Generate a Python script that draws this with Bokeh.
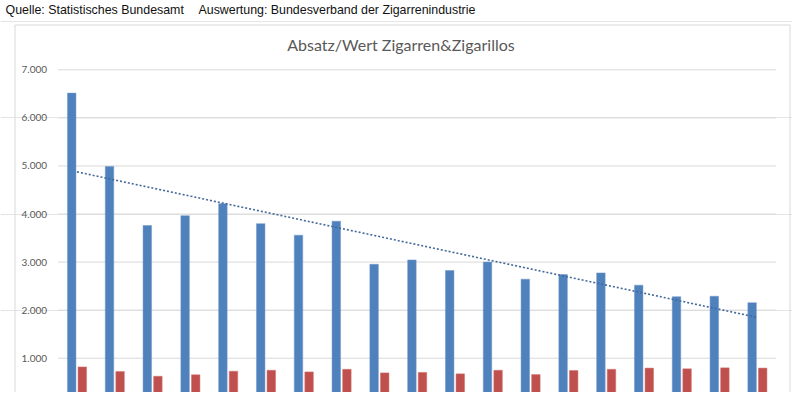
import numpy as np
from bokeh.plotting import figure
from bokeh.models import Range1d, ColumnDataSource, Grid, FixedTicker
from bokeh.core.properties import value
from bokeh.transform import dodge
from bokeh.embed import file_html
from bokeh.resources import INLINE

# ---- data ----
categories = [str(i) for i in range(1, 20)]
absatz = [6515, 4990, 3760, 3965, 4215, 3800, 3560, 3850, 2955, 3045,
          2825, 3000, 2645, 2740, 2775, 2520, 2280, 2290, 2155]
wert = [820, 725, 625, 655, 730, 750, 715, 770, 695, 705,
        675, 750, 660, 745, 770, 795, 780, 800, 795]
y_ticks = [1000, 2000, 3000, 4000, 5000, 6000, 7000]
y_tick_labels = ["1.000", "2.000", "3.000", "4.000", "5.000", "6.000", "7.000"]
title_text = "Absatz/Wert Zigarren&Zigarillos"
source_text = "Quelle: Statistisches Bundesamt"
eval_text = "Auswertung: Bundesverband der Zigarrenindustrie"

# ---- layout helpers (pixel -> data) ----
W, H = 792, 392
CAT_PX = 37.8          # pixel width of one category
X0_PX = 76.5           # pixel centre of the first category
PX_PER_UNIT_Y = 0.04807
ZERO_PX = 405.8        # pixel row of value 0 (below the visible area)

def dx(px):
    return (px - X0_PX) / CAT_PX

def dy(py):
    return (ZERO_PX - py) / PX_PER_UNIT_Y

xs = np.arange(len(categories))
slope, intercept = np.polyfit(xs, absatz, 1)
trend = list(slope * xs + intercept)

src = ColumnDataSource(dict(x=list(xs), absatz=absatz, wert=wert, trend=trend))

p = figure(width=W, height=H,
           x_range=Range1d(dx(0), dx(W)), y_range=Range1d(dy(H), dy(0)),
           x_axis_location=None, y_axis_location=None,
           output_backend="svg", toolbar_location=None,
           min_border=0)
p.outline_line_color = None
p.background_fill_color = "white"
p.border_fill_color = "white"
p.xgrid.visible = False if p.xgrid else None

# chart-area border
p.quad(left=dx(14.5), right=dx(789.5), top=dy(24.5), bottom=dy(H + 20),
       fill_color=None, line_color="#d9d9d9", line_width=1)

# horizontal gridlines over the plot area
p.segment(x0=-0.5, x1=len(categories) - 0.5, y0=y_ticks, y1=y_ticks,
          line_color="#d9d9d9", line_width=1)

# y tick labels
p.text(x=-0.5, y=y_ticks, text=y_tick_labels, x_offset=-11,
       text_align="right", text_baseline="middle",
       text_font=value("Lato"), text_font_size="10px", text_color="#595959")

# bars
p.vbar(x=dodge("x", -0.14), top="absatz", bottom=0, width=0.225,
       source=src, fill_color="#4f81bd", line_color="#6f98c8", line_width=0.5)
p.vbar(x=dodge("x", 0.14), top="wert", bottom=0, width=0.225,
       source=src, fill_color="#c0504d", line_color="#cf7270", line_width=0.5)

# linear trend of the blue series
p.line(x="x", y="trend", source=src, line_dash="2 2", line_width=1.6, line_color="#43699a")

# chart title
p.text(x=[dx(400.5)], y=[dy(44)], text=[title_text], text_align="center",
       text_baseline="middle", text_font=value("Lato"), text_font_size="16px",
       text_color="#595959")

# header line above the chart
p.text(x=[dx(5), dx(198)], y=[dy(9.5), dy(9.5)], text=[source_text, eval_text],
       text_align="left", text_baseline="alphabetic",
       text_font=value("Liberation Sans"), text_font_size="12.4px", text_color="#111111")

open("out.html", "w").write(file_html(p, INLINE))
